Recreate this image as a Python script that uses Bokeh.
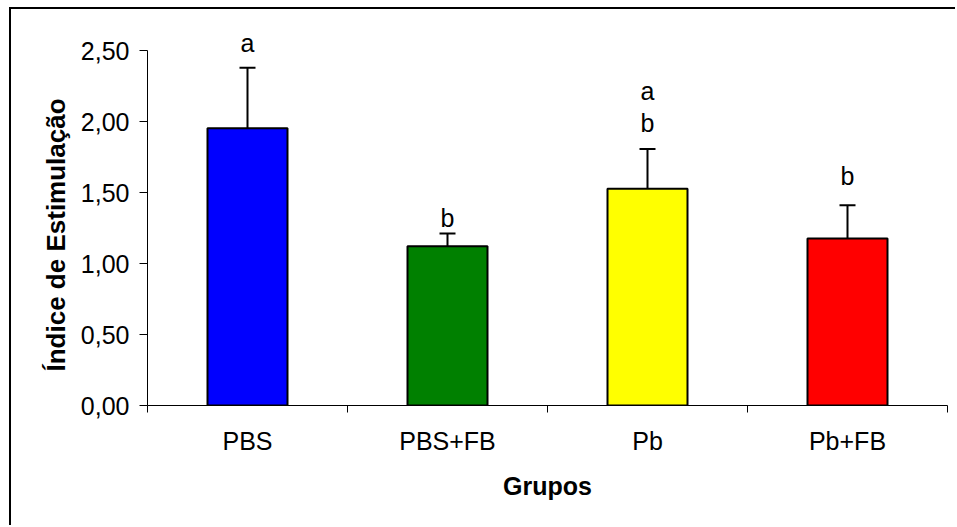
from bokeh.plotting import figure
from bokeh.models import (ColumnDataSource, FixedTicker, CustomJSTickFormatter,
                          Whisker, TeeHead, Range1d, Title)
from bokeh.embed import file_html
from bokeh.resources import INLINE

# ---- data ----
groups = ["PBS", "PBS+FB", "Pb", "Pb+FB"]
means = [1.953, 1.122, 1.527, 1.176]
errors = [0.425, 0.089, 0.279, 0.234]
colors = ["#0000FF", "#008000", "#FFFF00", "#FF0000"]
letter_group = [0, 1, 2, 2, 3]
letters = ["a", "b", "a", "b", "b"]
letter_y = [2.486, 1.255, 2.153, 1.925, 1.551]
y_ticks = [0.0, 0.5, 1.0, 1.5, 2.0, 2.5]
y_title = "Índice de Estimulação"
x_title = "Grupos"

# ---- layout ----
PAGE_W, PAGE_H = 957, 527
BOX_X, BOX_Y, BOX_LW = 9, 7, 2          # outer chart-area border (left/top edges)
W = PAGE_W - BOX_X - BOX_LW
H = PAGE_H - BOX_Y - BOX_LW
LEFT = 147 - BOX_X - BOX_LW
RIGHT = 10
TOP = 20 - BOX_Y - BOX_LW
BOTTOM = 122
AXIS_TOP_PX = 50 - BOX_Y - BOX_LW        # pixel row of the highest tick inside canvas
FS = "25px"
FONT = "Liberation Sans"
Y_TITLE_OFFSET = 34                      # px from the frame bottom to where the title starts

x_pos = [i + 0.5 for i in range(len(groups))]
uppers = [m + e for m, e in zip(means, errors)]
y_max = y_ticks[-1]
frame_h = H - TOP - BOTTOM
axis_h = H - BOTTOM - AXIS_TOP_PX
y_end = y_max * frame_h / axis_h

bars = ColumnDataSource(dict(x=x_pos, top=means, upper=uppers, color=colors))
labs = ColumnDataSource(dict(x=[x_pos[g] for g in letter_group], y=letter_y, t=letters))

p = figure(width=W, height=H, output_backend="svg", toolbar_location=None,
           x_range=Range1d(0, len(groups)), y_range=Range1d(0, y_end),
           min_border_left=LEFT, min_border_right=RIGHT,
           min_border_top=TOP, min_border_bottom=BOTTOM,
           background_fill_color="white", border_fill_color="white",
           margin=(BOX_Y, 0, 0, BOX_X),
           styles={"border-left": f"{BOX_LW}px solid black",
                   "border-top": f"{BOX_LW}px solid black"})
p.outline_line_color = None
p.xgrid.visible = False
p.ygrid.visible = False

p.vbar(x="x", top="top", bottom=0, width=0.4, source=bars,
       fill_color="color", line_color="black", line_width=2)

p.add_layout(Whisker(base="x", lower="top", upper="upper", source=bars,
                     dimension="height", line_color="black", line_width=2,
                     lower_head=None,
                     upper_head=TeeHead(size=16, line_color="black", line_width=2)))

p.text(x="x", y="y", text="t", source=labs, text_align="center",
       text_baseline="alphabetic", text_font_size=FS, y_offset=-9,
       text_font={"value": FONT}, text_color="black")

# y axis
ya = p.yaxis[0]
ya.bounds = (0, y_max)
ya.ticker = FixedTicker(ticks=y_ticks)
ya.formatter = CustomJSTickFormatter(code="return tick.toFixed(2).replace('.', ',');")
ya.major_tick_out = 8
ya.major_tick_in = 0
ya.minor_tick_out = 0
ya.minor_tick_in = 0
ya.axis_line_color = "black"
ya.major_tick_line_color = "black"
ya.major_label_text_font = FONT
ya.major_label_text_font_size = FS
ya.major_label_text_color = "black"
ya.major_label_standoff = 10

p.add_layout(Title(text=y_title, align="left", offset=Y_TITLE_OFFSET, standoff=13,
                   text_font=FONT, text_font_size="26px", text_font_style="bold",
                   text_color="black"), "left")

# x axis
xa = p.xaxis[0]
xa.ticker = FixedTicker(ticks=x_pos, minor_ticks=list(range(len(groups) + 1)))
xa.formatter = CustomJSTickFormatter(args=dict(names=groups),
                                     code="return names[Math.floor(tick)];")
xa.major_tick_out = 0
xa.major_tick_in = 0
xa.minor_tick_out = 7
xa.minor_tick_in = 0
xa.minor_tick_line_color = "black"
xa.axis_line_color = "black"
xa.major_label_text_font = FONT
xa.major_label_text_font_size = FS
xa.major_label_text_color = "black"
xa.major_label_standoff = 14
xa.axis_label = x_title
xa.axis_label_text_font = FONT
xa.axis_label_text_font_size = FS
xa.axis_label_text_font_style = "bold"
xa.axis_label_text_color = "black"
xa.axis_label_standoff = 14

open("out.html", "w").write(file_html(p, INLINE))
